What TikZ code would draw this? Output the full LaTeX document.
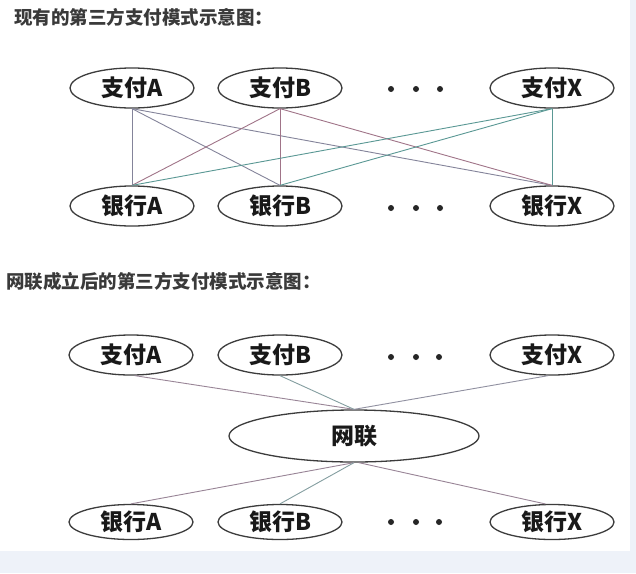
\documentclass[tikz,border=0pt]{standalone}
\usepackage{fontspec}
\setmainfont{Noto Sans CJK SC}
\usetikzlibrary{shapes.geometric}
\definecolor{bandcol}{HTML}{EEF2F9}
\definecolor{edgecol}{HTML}{3C3C3C}
\definecolor{titlecol}{HTML}{3A3A3A}
\definecolor{lineA}{HTML}{84849A}
\definecolor{lineB}{HTML}{A07488}
\definecolor{lineX}{HTML}{5A9894}
\definecolor{lineP}{HTML}{988496}
\definecolor{lineT}{HTML}{849EA0}
\definecolor{lineG}{HTML}{9090A0}
\tikzset{
  oval/.style={ellipse, draw=edgecol, line width=1.3pt, fill=white, inner sep=0pt,
    minimum width=124pt, minimum height=40pt, font=\fontsize{23}{23}\selectfont\bfseries, text=black!90},
  ovalsm/.style={oval, minimum height=35pt},
  hub/.style={oval, minimum width=250pt, minimum height=52pt},
  heading/.style={anchor=west, inner sep=0pt, font=\fontsize{18.5}{18.5}\selectfont\bfseries, text=titlecol},
  dotmark/.style={circle, fill=black!85, inner sep=0pt, minimum size=6pt},
  link/.style={line width=0.9pt}
}
\begin{document}
\begin{tikzpicture}[x=1pt,y=-1pt]
\useasboundingbox (0,0) rectangle (636,573);
\fill[bandcol] (0,0) rectangle (636,573);
\fill[white] (0,0) rectangle (630,551);

% ---------- top section ----------
\node[heading] (t1) at (14,17) {现有的第三方支付模式示意图：};

\node[oval] (pa1) at (132,88) {支付A};
\node[oval] (pb1) at (280,88) {支付B};
\node[oval] (px1) at (552,88) {支付X};
\node[dotmark] (d11) at (391,89) {};
\node[dotmark] (d12) at (416,89) {};
\node[dotmark] (d13) at (440,89) {};

\node[oval] (ba1) at (132,206) {银行A};
\node[oval] (bb1) at (280,206) {银行B};
\node[oval] (bx1) at (552,206) {银行X};
\node[dotmark] (d21) at (391,208) {};
\node[dotmark] (d22) at (416,208) {};
\node[dotmark] (d23) at (440,208) {};

\draw[link, lineA] (pa1.south) -- (ba1.north);
\draw[link, lineA] (pa1.south) -- (bb1.north);
\draw[link, lineA] (pa1.south) -- (bx1.north);
\draw[link, lineB] (pb1.south) -- (ba1.north);
\draw[link, lineB] (pb1.south) -- (bb1.north);
\draw[link, lineB] (pb1.south) -- (bx1.north);
\draw[link, lineX] (px1.south) -- (ba1.north);
\draw[link, lineX] (px1.south) -- (bb1.north);
\draw[link, lineX] (px1.south) -- (bx1.north);

% ---------- bottom section ----------
\node[heading] (t2) at (6,281) {网联成立后的第三方支付模式示意图：};

\node[oval] (pa2) at (131,355) {支付A};
\node[oval] (pb2) at (280,355) {支付B};
\node[oval] (px2) at (552,355) {支付X};
\node[dotmark] (d31) at (391,357) {};
\node[dotmark] (d32) at (416,357) {};
\node[dotmark] (d33) at (439,357) {};

\node[hub] (wl) at (354,436) {网联};

\node[ovalsm] (ba2) at (131,522) {银行A};
\node[ovalsm] (bb2) at (280,522) {银行B};
\node[ovalsm] (bx2) at (552,522) {银行X};
\node[dotmark] (d41) at (391,522) {};
\node[dotmark] (d42) at (416,522) {};
\node[dotmark] (d43) at (439,522) {};

\draw[link, lineP] (pa2.-80) -- (wl.north);
\draw[link, lineT] (pb2.south) -- (wl.north);
\draw[link, lineG] (px2.-100) -- (wl.north);
\draw[link, lineP] (wl.south) -- (ba2.north);
\draw[link, lineT] (wl.south) -- (bb2.north);
\draw[link, lineP] (wl.-80) -- (bx2.110);
\end{tikzpicture}
\end{document}
